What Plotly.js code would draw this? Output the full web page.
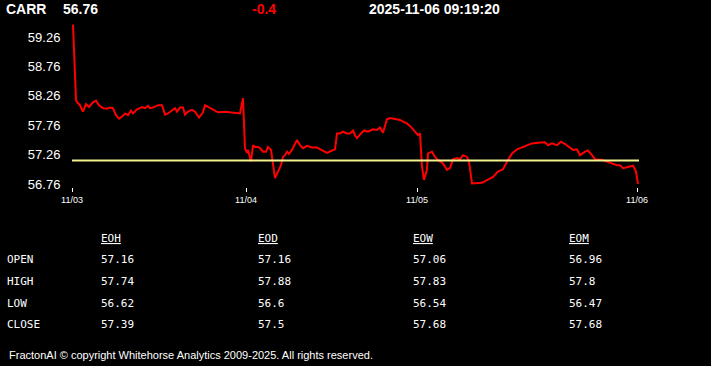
<!DOCTYPE html>
<html>
<head>
<meta charset="utf-8">
<script src="https://cdn.plot.ly/plotly-3.0.1.min.js"></script>
<style>
html,body{margin:0;padding:0;background:#000;}
#chart{width:711px;height:366px;}
</style>
</head>
<body>
<div id="chart"></div>
<script>
// ---- header ----
var ticker = 'CARR';
var lastPrice = '56.76';
var change = '-0.4';
var timestamp = '2025-11-06 09:19:20';

// ---- price series (sample index, price) ----
var sampleIdx = [1,4,5,8,11,14,17,21,24,27,31,35,38,41,44,47,51,53,56,59,61,65,70,73,76,
  78,81,86,90,93,96,100,103,105,108,111,113,116,120,123,127,131,133,136,141,146,153,160,168,171,
  173,175,176,179,181,183,186,188,191,194,196,199,201,203,206,209,211,213,215,217,220,223,225,228,231,235,240,245,250,255,260,263,
  265,268,271,275,278,281,283,285,289,292,296,301,305,308,311,315,318,323,328,331,335,340,344,346,348,
  350,352,355,356,360,363,366,371,375,378,381,385,388,391,395,397,
  400,410,415,421,426,431,436,440,445,448,451,455,460,466,473,476,480,485,489,493,498,501,505,508,513,516,520,523,
  530,535,540,545,548,551,556,561,564,566];
var price = [59.47,58.19,58.15,58.10,57.99,58.12,58.07,58.15,58.18,58.10,58.05,58.04,58.06,58.05,57.93,57.87,57.92,57.96,57.93,58.01,57.96,58.03,58.07,58.05,58.09,
  58.05,58.06,58.10,58.10,57.94,57.96,58.02,58.05,57.99,58.06,58.06,57.94,57.99,58.02,57.99,57.89,57.98,58.10,58.07,58.02,57.98,57.99,57.97,57.96,58.22,
  57.37,57.29,57.34,57.14,57.42,57.39,57.39,57.37,57.31,57.31,57.39,57.34,57.08,56.86,56.97,57.08,57.22,57.25,57.31,57.27,57.34,57.45,57.51,57.42,57.37,57.41,57.38,57.38,57.34,57.29,57.33,57.35,
  57.62,57.62,57.65,57.62,57.62,57.67,57.59,57.54,57.62,57.67,57.65,57.69,57.68,57.72,57.63,57.86,57.88,57.86,57.85,57.82,57.79,57.71,57.62,57.59,57.62,
  57.05,56.83,57.00,57.28,57.31,57.22,57.17,57.11,57.00,57.03,57.18,57.20,57.18,57.25,57.22,57.14,
  56.77,56.78,56.83,56.88,56.97,57.01,57.17,57.28,57.35,57.37,57.39,57.42,57.45,57.46,57.47,57.42,57.45,57.42,57.48,57.44,57.37,57.34,57.35,57.25,57.31,57.33,57.25,57.18,
  57.17,57.14,57.11,57.08,57.08,57.03,57.05,57.07,56.97,56.76];

// reference (open) level
var refIdx = [0, 567];
var refLevel = [57.16, 57.16];

// ---- axis ticks ----
var xTickVals = [0, 174, 345, 565];
var xTickText = ['11/03', '11/04', '11/05', '11/06'];
var yTickVals = [56.76, 57.26, 57.76, 58.26, 58.76, 59.26];
var yTickText = ['56.76', '57.26', '57.76', '58.26', '58.76', '59.26'];

// ---- stats table ----
var tableCols = ['EOH', 'EOD', 'EOW', 'EOM'];
var rowLabels = ['OPEN', 'HIGH', 'LOW', 'CLOSE'];
var eohVals = ['57.16', '57.74', '56.62', '57.39'];
var eodVals = ['57.16', '57.88', '56.6', '57.5'];
var eowVals = ['57.06', '57.83', '56.54', '57.68'];
var eomVals = ['56.96', '57.8', '56.47', '57.68'];

var footer = 'FractonAI \u00a9 copyright Whitehorse Analytics 2009-2025. All rights reserved.';

// ---- layout helpers (pixel -> paper) ----
var L = 72, R = 72, T = 22, B = 179;
var W = 711, H = 366;
var PW = W - L - R, PH = H - T - B;
function px(x){ return (x - L) / PW; }
function py(y){ return (H - B - y) / PH; }

var ann = [];
var hdrFont = {family: 'Liberation Sans, Arial, sans-serif', size: 14, color: '#ffffff', weight: 'bold'};
function addText(text, x, y, font, anchor){
  ann.push({text: text, x: px(x), y: py(y), xref: 'paper', yref: 'paper',
    xanchor: anchor || 'left', yanchor: 'middle', showarrow: false, font: font});
}
addText('<b>' + ticker + '</b>', 4, 9, hdrFont);
addText('<b>' + lastPrice + '</b>', 61, 9, hdrFont);
addText('<b>' + change + '</b>', 250, 9, Object.assign({}, hdrFont, {color: '#ff0000'}));
addText('<b>' + timestamp + '</b>', 367, 9, hdrFont);

var monoFont = {family: 'DejaVu Sans Mono, monospace', size: 11, color: '#ffffff'};
var colX = [99, 256, 411, 567];
var rowY = [259, 281, 303, 324];
var colVals = [eohVals, eodVals, eowVals, eomVals];
for (var c = 0; c < tableCols.length; c++) {
  addText(tableCols[c], colX[c], 238, Object.assign({}, monoFont, {lineposition: 'under'}));
  for (var r = 0; r < rowLabels.length; r++) {
    addText(colVals[c][r], colX[c], rowY[r], monoFont);
  }
}
for (var r2 = 0; r2 < rowLabels.length; r2++) {
  addText(rowLabels[r2], 5, rowY[r2], monoFont);
}
addText(footer, 7, 355, {family: 'Liberation Sans, Arial, sans-serif', size: 11, color: '#ffffff'});

var traces = [
  {x: sampleIdx, y: price, type: 'scatter', mode: 'lines',
   line: {color: '#ff0000', width: 2}, hoverinfo: 'skip'},
  {x: refIdx, y: refLevel, type: 'scatter', mode: 'lines',
   line: {color: '#f2f28c', width: 2}, hoverinfo: 'skip'}
];

var layout = {
  width: W, height: H,
  paper_bgcolor: '#000000', plot_bgcolor: '#000000',
  margin: {l: L, r: R, t: T, b: B, pad: 0},
  showlegend: false,
  xaxis: {range: [0, 567], tickmode: 'array', tickvals: xTickVals, ticktext: xTickText,
    showgrid: false, zeroline: false, showline: false,
    ticks: 'outside', ticklen: 4, tickwidth: 1, tickcolor: '#ffffff',
    tickfont: {family: 'Liberation Sans, Arial, sans-serif', size: 9, color: '#ffffff'}},
  yaxis: {range: [56.709, 59.515], tickmode: 'array', tickvals: yTickVals, ticktext: yTickText,
    showgrid: false, zeroline: false, showline: false,
    ticks: 'outside', ticklen: 8, tickcolor: 'rgba(0,0,0,0)',
    tickfont: {family: 'Liberation Sans, Arial, sans-serif', size: 13, color: '#ffffff'}},
  annotations: ann
};

Plotly.newPlot('chart', traces, layout, {displayModeBar: false, staticPlot: true});
</script>
</body>
</html>
